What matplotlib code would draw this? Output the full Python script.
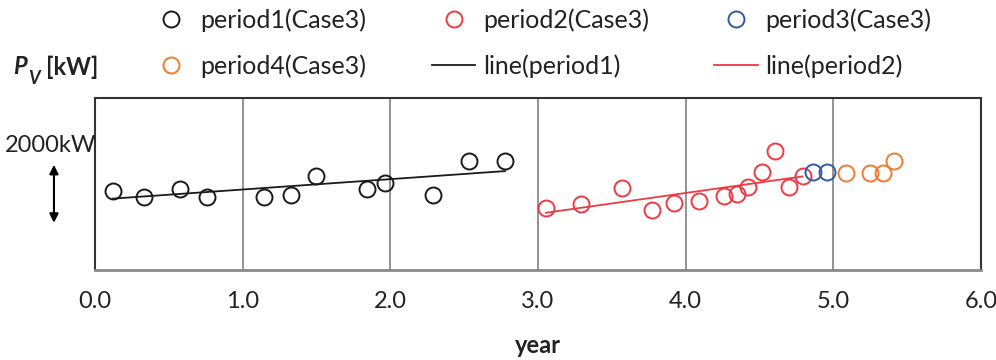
import numpy as np
import matplotlib
matplotlib.use("Agg")
import matplotlib.pyplot as plt

plt.rcParams['font.family'] = ['Lato', 'DejaVu Sans']

# ------------------ data ------------------
p1_year = [0.12, 0.33, 0.575, 0.76, 1.144, 1.325, 1.496, 1.84, 1.963, 2.286, 2.534, 2.776]
p1_kw = [2526, 2345, 2603, 2345, 2345, 2387, 3010, 2581, 2774, 2410, 3494, 3484]

p2_year = [3.053, 3.293, 3.570, 3.773, 3.922, 4.091, 4.259, 4.349, 4.425, 4.516, 4.606, 4.701, 4.791]
p2_kw = [1990, 2097, 2623, 1913, 2152, 2204, 2365, 2442, 2655, 3119, 3797, 2655, 3000]

p3_year = [4.864, 4.954]
p3_kw = [3119, 3119]

p4_year = [5.085, 5.247, 5.333, 5.412]
p4_kw = [3087, 3097, 3097, 3474]

line1_year = [0.12, 2.776]
line1_kw = [2281, 3161]
line2_year = [3.053, 4.791]
line2_kw = [1829, 2990]

scale_kw = [1420, 3450]   # the 2000kW arrow
year_ticks = [0, 1, 2, 3, 4, 5, 6]
year_labels = ['0.0', '1.0', '2.0', '3.0', '4.0', '5.0', '6.0']

BLACK = '#1a1a1a'
RED = '#ee3a43'
BLUE = '#2f5ba8'
ORANGE = '#f07a30'
TXT = '#222222'

fig = plt.figure(figsize=(9.96, 3.6), dpi=100)
ax = fig.add_axes([0.0954, 0.25, 0.8896, 0.478])

mk = dict(marker='o', linestyle='none', markersize=11.5, markerfacecolor='none', markeredgewidth=1.4)
h1, = ax.plot(p1_year, p1_kw, color=BLACK, label='period1(Case3)', **mk)
h2, = ax.plot(p2_year, p2_kw, color=RED, label='period2(Case3)', **mk)
h3, = ax.plot(p3_year, p3_kw, color=BLUE, label='period3(Case3)', **mk)
h4, = ax.plot(p4_year, p4_kw, color=ORANGE, label='period4(Case3)', **mk)
l1, = ax.plot(line1_year, line1_kw, color=BLACK, lw=1.3, label='line(period1)')
l2, = ax.plot(line2_year, line2_kw, color=RED, lw=1.3, label='line(period2)')

ax.set_xlim(0, 6)
ax.set_ylim(0, 5500)
ax.set_xticks(year_ticks)
ax.set_xticklabels(year_labels, fontsize=17, color=TXT)
ax.tick_params(axis='x', length=0, pad=15)
ax.set_yticks([])
ax.grid(axis='x', color='#8a8a8a', lw=1.3)

for side in ['top', 'left', 'right']:
    ax.spines[side].set_color('#333333')
    ax.spines[side].set_linewidth(1.5)
ax.spines['bottom'].set_color('#8a8a8a')
ax.spines['bottom'].set_linewidth(2)

ax.set_xlabel('year', fontsize=17, fontweight='bold', labelpad=16, color=TXT)

# scale arrow and label left of the axes
ax.annotate('', xy=(-0.278, scale_kw[0]), xytext=(-0.278, scale_kw[1]),
            xycoords='data', annotation_clip=False,
            arrowprops=dict(arrowstyle='<|-|>', color='black', lw=1.5, mutation_scale=13))
ax.text(-0.3, 3980, '2000kW', fontsize=17, ha='center', va='center', color=TXT, clip_on=False)

# y label
fig.text(0.013, 0.814, 'P', fontsize=17, fontweight='bold', style='italic', va='center', color=TXT)
fig.text(0.028, 0.781, 'V', fontsize=13, fontweight='bold', style='italic', va='center', color=TXT)
fig.text(0.046, 0.814, '[kW]', fontsize=17, fontweight='bold', va='center', color=TXT)

# row-major order for a column-filling legend
handles = [h1, h4, h2, l1, h3, l2]
labels = [h.get_label() for h in handles]
leg = fig.legend(handles, labels, ncol=3, loc='upper left', bbox_to_anchor=(0.15, 0.978),
                 frameon=False, fontsize=18, columnspacing=2.6, handlelength=1.75,
                 handletextpad=0.3, labelspacing=0.92, borderpad=0, borderaxespad=0)
for t in leg.get_texts():
    t.set_color(TXT)

fig.savefig('out.png', dpi=100)
